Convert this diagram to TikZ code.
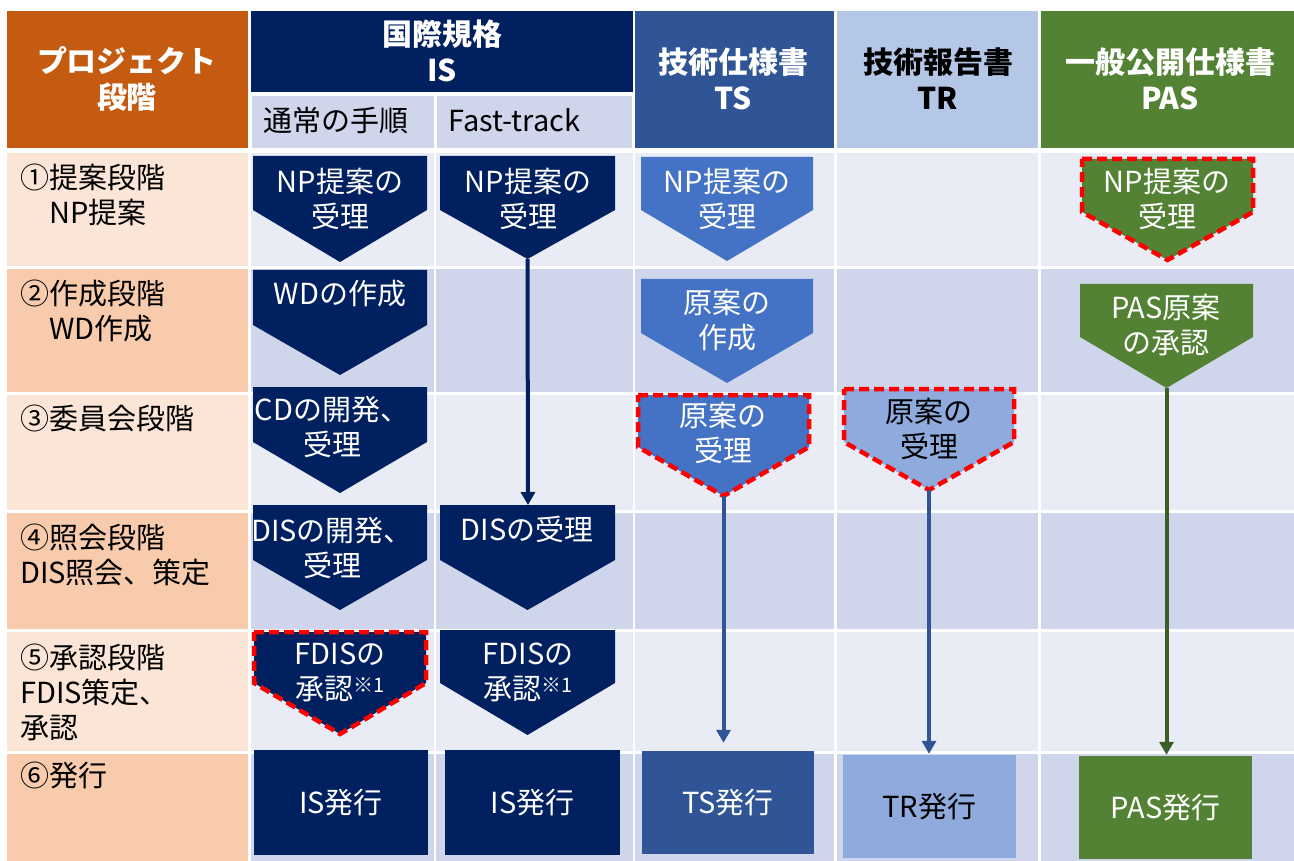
\documentclass[tikz,border=0pt]{standalone}
\usepackage{fontspec}
\setmainfont{Noto Sans CJK JP}
\usetikzlibrary{arrows.meta}
\definecolor{hdorange}{HTML}{C55A11}
\definecolor{navy}{HTML}{002060}
\definecolor{tsblue}{HTML}{2F5597}
\definecolor{tsshape}{HTML}{4472C4}
\definecolor{trshape}{HTML}{8FAADC}
\definecolor{trhead}{HTML}{B4C7E7}
\definecolor{pasgreen}{HTML}{548235}
\definecolor{pasline}{HTML}{3B5E27}
\definecolor{labl}{HTML}{FBE5D6}
\definecolor{labd}{HTML}{F8CBAD}
\definecolor{celll}{HTML}{E9EBF5}
\definecolor{celld}{HTML}{CFD5EA}
\definecolor{reddash}{HTML}{FF0000}
\newcommand{\homeplate}[7]{%
  \path[#7] (#2,#4) -- (#3,#4) -- (#3,#5) -- ({(#2+#3)/2},#6) -- (#2,#5) -- cycle;
  \coordinate (#1-tip) at ({(#2+#3)/2},#6);
}
\newcommand{\supone}{\raisebox{7pt}{\fontsize{20}{20}\selectfont ※1}}
\tikzset{
  hdtxt/.style={inner sep=0pt, align=center, font=\fontsize{30}{36}\selectfont\bfseries},
  subtxt/.style={inner sep=0pt, anchor=west, font=\fontsize{29}{35}\selectfont},
  labtxt/.style={inner sep=0pt, anchor=west, align=left, font=\fontsize{29}{35}\selectfont},
  btxt/.style={inner sep=0pt, align=center, font=\fontsize{29}{35}\selectfont, text=white},
  dashbord/.style={draw=reddash, line width=4.5pt, dash pattern=on 10pt off 5pt},
  pubbox/.style={inner sep=0pt, font=\fontsize{29}{35}\selectfont},
  flow/.style={line width=4pt, -{Triangle[width=14pt,length=13pt]}}
}
\begin{document}
\begin{tikzpicture}[x=1pt,y=-1pt]
\useasboundingbox (0,0) rectangle (1294,861);
\fill[white] (0,0) rectangle (1294,861);
% header
\fill[hdorange] (7,11) rectangle (248,148);
\fill[navy] (251,11) rectangle (633,92);
\fill[celld] (252,96) rectangle (434,148);
\fill[celld] (437,96) rectangle (632,148);
\fill[tsblue] (635,11) rectangle (834,148);
\fill[trhead] (837,11) rectangle (1038,148);
\fill[pasgreen] (1041,11) rectangle (1294,148);
% rows
\foreach \t/\b/\lc/\cc in {153/266/labl/celll, 269/392/labd/celld, 395/510/labl/celll, 513/629/labd/celld, 632/751/labl/celll, 754/861/labd/celld}{
  \fill[\lc] (7,\t) rectangle (248,\b);
  \foreach \l/\r in {251/434, 436/633, 635/834, 837/1038, 1041/1294}
    \fill[\cc] (\l,\t) rectangle (\r,\b);
}
% header texts
\node[hdtxt, text=white] (hproj) at (127,79) {プロジェクト\\段階};
\node[hdtxt, text=white] (his) at (442,51) {国際規格\\IS};
\node[subtxt] (hnorm) at (263,120) {通常の手順};
\node[subtxt] (hfast) at (448,120) {Fast-track};
\node[hdtxt, text=white] (hts) at (733,79) {技術仕様書\\TS};
\node[hdtxt, text=black] (htr) at (938,79) {技術報告書\\TR};
\node[hdtxt, text=white] (hpas) at (1170,79) {一般公開仕様書\\PAS};
% row labels
\node[labtxt] (l1) at (20,195) {①提案段階\\　NP提案};
\node[labtxt] (l2) at (20,311) {②作成段階\\　WD作成};
\node[labtxt] (l3) at (20,418) {③委員会段階};
\node[labtxt] (l4) at (20,555) {④照会段階\\DIS照会、策定};
\node[labtxt] (l5) at (20,692) {⑤承認段階\\FDIS策定、\\承認};
\node[labtxt] (l6) at (20,775) {⑥発行};
% IS normal
\homeplate{n1}{253}{427}{156}{210}{262}{fill=navy}
\node[btxt] (n1t) at (340,199) {NP提案の\\受理};
\homeplate{n2}{253}{427}{270}{325}{375}{fill=navy}
\node[btxt] (n2t) at (340,294) {WDの作成};
\homeplate{n3}{253}{427}{387}{442}{493}{fill=navy}
\node[btxt] (n3t) at (332,427) {CDの開発、\\受理};
\homeplate{n4}{253}{427}{505}{560}{610}{fill=navy}
\node[btxt] (n4t) at (332,548) {DISの開発、\\受理};
\homeplate{n5}{254}{426}{632}{683}{734}{fill=navy,dashbord}
\node[btxt] (n5t) at (340,672) {FDISの\\承認\supone};
\node[pubbox, fill=navy, text=white, minimum width=174pt, minimum height=105pt] (n6) at (341,802.5) {IS発行};
% IS fast track
\homeplate{f1}{440}{615}{156}{210}{259}{fill=navy}
\node[btxt] (f1t) at (528,199) {NP提案の\\受理};
\homeplate{f4}{440}{615}{505}{560}{610}{fill=navy}
\node[btxt] (f4t) at (527,529) {DISの受理};
\coordinate (f4-top) at (528,505);
\homeplate{f5}{440}{615}{630}{683}{735}{fill=navy}
\node[btxt] (f5t) at (528,672) {FDISの\\承認\supone};
\node[pubbox, fill=navy, text=white, minimum width=175pt, minimum height=105pt] (f6) at (532.5,802.5) {IS発行};
\draw[flow, draw=navy, fill=navy] (f1-tip) -- (f4-top);
% TS
\homeplate{t1}{641}{813}{157}{210}{261}{fill=tsshape}
\node[btxt] (t1t) at (727,199) {NP提案の\\受理};
\homeplate{t2}{641}{813}{279}{333}{383}{fill=tsshape}
\node[btxt] (t2t) at (727,320) {原案の\\作成};
\homeplate{t3}{638}{809}{395}{447}{496}{fill=tsshape,dashbord}
\node[btxt] (t3t) at (723,433) {原案の\\受理};
\node[pubbox, fill=tsblue, text=white, minimum width=172pt, minimum height=103pt] (t6) at (728,802.5) {TS発行};
\draw[flow, draw=tsblue, fill=tsblue, shorten >=8pt] (t3-tip) -- (t3-tip |- t6.north);
% TR
\homeplate{r3}{844}{1014}{389}{442}{490}{fill=trshape,dashbord}
\node[btxt, text=black] (r3t) at (929,429) {原案の\\受理};
\node[pubbox, fill=trshape, text=black, minimum width=173pt, minimum height=103pt] (r6) at (929.5,806.5) {TR発行};
\draw[flow, draw=tsblue, fill=tsblue, shorten >=1pt] (r3-tip) -- (r3-tip |- r6.north);
% PAS
\homeplate{p1}{1082}{1253}{159}{212}{260}{fill=pasgreen,dashbord}
\node[btxt] (p1t) at (1167,199) {NP提案の\\受理};
\homeplate{p2}{1080}{1253}{284}{337}{388}{fill=pasgreen}
\node[btxt] (p2t) at (1166,325) {PAS原案\\の承認};
\node[pubbox, fill=pasgreen, text=white, minimum width=173pt, minimum height=103pt] (p6) at (1165.5,807.5) {PAS発行};
\draw[flow, draw=pasline, fill=pasline, shorten >=1pt] (p2-tip) -- (p2-tip |- p6.north);
\end{tikzpicture}
\end{document}
